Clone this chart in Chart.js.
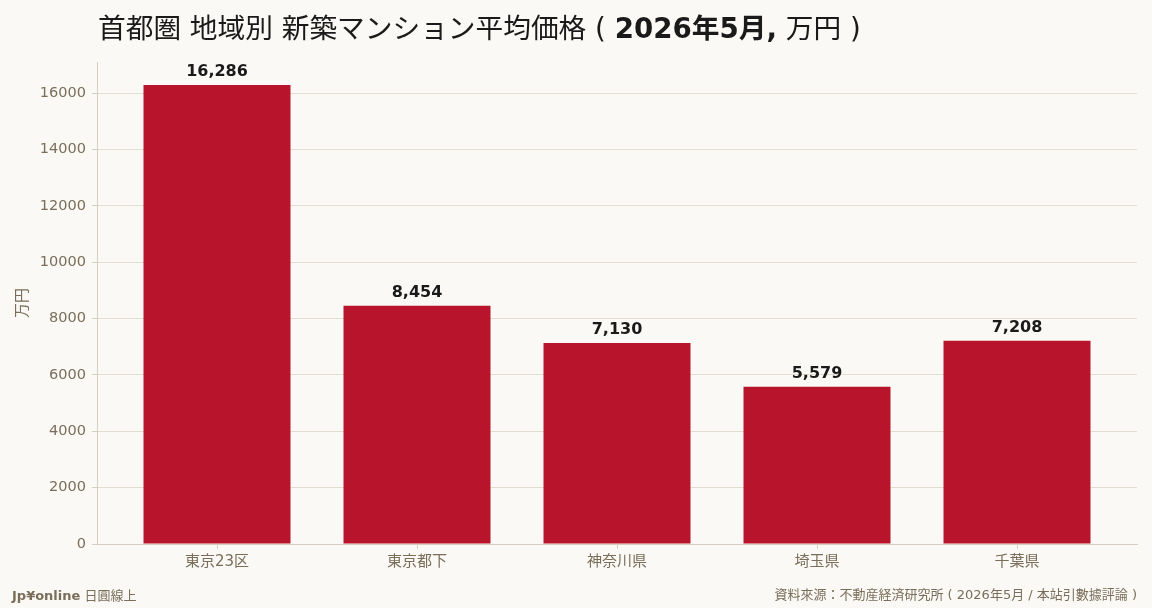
<!DOCTYPE html>
<html>
<head>
<meta charset="utf-8">
<script src="https://cdn.jsdelivr.net/npm/chart.js@4"></script>
<style>
  html, body { margin: 0; padding: 0; background: #faf9f5; }
  #wrap { width: 1152px; height: 608px; position: relative; }
</style>
</head>
<body>
<div id="wrap"><canvas id="priceChart"></canvas></div>
<script>
const regions = ['東京23区', '東京都下', '神奈川県', '埼玉県', '千葉県'];
const avgPrice = [16286, 8454, 7130, 5579, 7208];
const yTicks = [0, 2000, 4000, 6000, 8000, 10000, 12000, 14000, 16000];
const yTitle = '万円';
const titleParts = [
    { text: '首都圏 地域別 新築マンション平均価格 ( ', bold: false },
    { text: '2026年5月,', bold: true },
    { text: ' 万円 )', bold: false }
];
const footLeftBold = 'Jp¥online';
const footLeftText = ' 日圓線上';
const footSrcHead = '資料來源';
const footSrcBody = '不動産経済研究所 ( 2026年5月 / 本站引數據評論 )';

const textColor = '#7a6e5a';
const axisColor = '#d6cfbf';
const font = "'DejaVu Sans', 'Noto Sans CJK JP', sans-serif";
const cjkFont = "'Noto Sans CJK JP', sans-serif";

// bar points on a numeric x axis so there is a margin either side of the bars
const points = avgPrice.map(function(v, i) { return { x: i, y: v }; });

const titleAndLabels = {
    id: 'titleAndLabels',
    afterDatasetsDraw(chart) {
        const ctx = chart.ctx;
        const meta = chart.getDatasetMeta(0);
        ctx.save();
        ctx.fillStyle = '#1a1a1a';
        ctx.font = 'bold 16px ' + font;
        ctx.textAlign = 'center';
        ctx.textBaseline = 'bottom';
        meta.data.forEach(function(bar, i) {
            ctx.fillText(avgPrice[i].toLocaleString('en-US'), bar.x, bar.y - 5);
        });
        ctx.restore();
    },
    afterDraw(chart) {
        const ctx = chart.ctx;
        ctx.save();
        // title
        let x = chart.chartArea.left + 1;
        ctx.textBaseline = 'alphabetic';
        ctx.textAlign = 'left';
        ctx.fillStyle = '#1a1a1a';
        titleParts.forEach(function(p) {
            ctx.font = (p.bold ? 'bold ' : '') + '27.7px ' + font;
            ctx.fillText(p.text, x, 38);
            x += ctx.measureText(p.text).width;
        });
        // footer left
        ctx.fillStyle = textColor;
        ctx.font = 'bold 13px ' + font;
        ctx.fillText(footLeftBold, 12, 600);
        const w = ctx.measureText(footLeftBold).width;
        ctx.font = '13px ' + font;
        ctx.fillText(footLeftText, 12 + w, 600);
        // footer right: head + full-width colon + body, right aligned
        const runs = [
            { text: footSrcHead, f: '13px ' + font },
            { text: '：', f: '13px ' + cjkFont },
            { text: footSrcBody, f: '13px ' + font }
        ];
        let total = 0;
        runs.forEach(function(r) { ctx.font = r.f; r.w = ctx.measureText(r.text).width; total += r.w; });
        let rx = chart.chartArea.right - total;
        runs.forEach(function(r) { ctx.font = r.f; ctx.fillText(r.text, rx, 599); rx += r.w; });
        ctx.restore();
    }
};

const bgPlugin = {
    id: 'bg',
    beforeDraw(chart) {
        const ctx = chart.ctx;
        ctx.save();
        ctx.fillStyle = '#faf9f5';
        ctx.fillRect(0, 0, chart.width, chart.height);
        ctx.restore();
    }
};

new Chart(document.getElementById('priceChart').getContext('2d'), {
    type: 'bar',
    data: {
        datasets: [{
            label: '平均価格',
            data: points,
            backgroundColor: '#b8152d',
            borderWidth: 0,
            barPercentage: 0.735,
            categoryPercentage: 1.0
        }]
    },
    options: {
        responsive: true,
        maintainAspectRatio: false,
        animation: false,
        layout: { padding: { top: 62, right: 15, bottom: 33, left: 0 } },
        plugins: {
            legend: { display: false },
            title: { display: false },
            tooltip: { enabled: false }
        },
        scales: {
            x: {
                type: 'linear',
                z: 1,
                offset: false,
                min: -0.6,
                max: regions.length - 0.4,
                afterBuildTicks: function(scale) {
                    scale.ticks = regions.map(function(r, i) { return { value: i }; });
                },
                grid: { display: true, offset: false, drawOnChartArea: false, drawTicks: true, tickLength: 5, color: axisColor },
                border: { color: axisColor, width: 1 },
                ticks: {
                    color: textColor,
                    font: { family: font, size: 15 },
                    padding: 4,
                    maxRotation: 0,
                    callback: function(value) { return regions[value]; }
                }
            },
            y: {
                z: 1,
                min: 0,
                max: Math.max.apply(null, avgPrice) * 1.05,
                afterFit: function(scale) { scale.width = 97; },
                afterBuildTicks: function(scale) {
                    scale.ticks = yTicks.map(function(v) { return { value: v }; });
                },
                grid: { color: 'rgba(220, 212, 196, 0.75)', tickLength: 5, tickColor: axisColor },
                border: { color: axisColor, width: 1 },
                ticks: {
                    color: textColor,
                    font: { family: font, size: 14.5 },
                    padding: 6,
                    callback: function(value) { return String(value); }
                },
                title: {
                    display: true,
                    text: yTitle,
                    color: textColor,
                    font: { family: font, size: 15 },
                    padding: { top: 14, bottom: 0 }
                }
            }
        }
    },
    plugins: [bgPlugin, titleAndLabels]
});
</script>
</body>
</html>
